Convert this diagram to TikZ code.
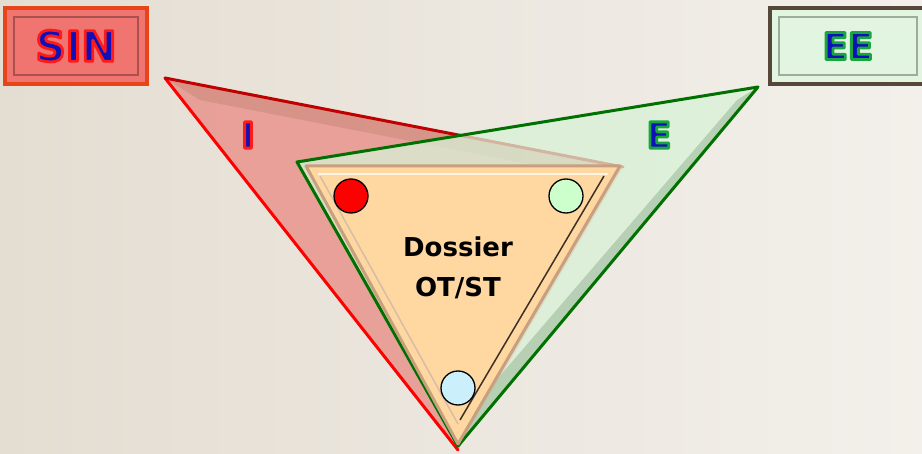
\documentclass[tikz,border=0pt]{standalone}
\usepackage{fontspec}
\setmainfont{DejaVu Sans}
\usetikzlibrary{calc}

\definecolor{bgleft}{HTML}{E4DDD2}
\definecolor{bgright}{HTML}{F3F0EB}
\definecolor{ifill}{HTML}{E89088}
\definecolor{iband}{HTML}{C88878}
\definecolor{iedge}{HTML}{FF0000}
\definecolor{itop}{HTML}{C00000}
\definecolor{efill}{HTML}{D8F2D6}
\definecolor{eband}{HTML}{A8C4A6}
\definecolor{eedge}{HTML}{007000}
\definecolor{dfill}{HTML}{FFD7A0}
\definecolor{dedge}{HTML}{C8A080}
\definecolor{sinfill}{HTML}{F07470}
\definecolor{sinedge}{HTML}{E8441A}
\definecolor{eefill}{HTML}{E2F5E0}
\definecolor{eeedge}{HTML}{554838}
\definecolor{txtblue}{HTML}{1010B8}

% text filled blue and stroked with a glow colour (r g b)
\newcommand{\glowtext}[2]{\special{pdf:literal direct #1 RG 2.8 w 1 j 2 Tr}#2\special{pdf:literal direct 0 Tr}}

\tikzset{
  labelbox/.style={draw, line width=4pt, minimum width=142pt,
    minimum height=76pt, inner sep=0pt, font=\bfseries\fontsize{42}{42}\selectfont,
    text=txtblue},
  dot/.style={circle, draw=black, line width=1.3pt, minimum size=34pt,
    inner sep=0pt},
  side/.style={text=txtblue, font=\bfseries\fontsize{36}{36}\selectfont, inner sep=0pt}
}

\begin{document}
\begin{tikzpicture}[x=1pt,y=-1pt]
  \fill[left color=bgleft,right color=bgright] (0,0) rectangle (922,454);
  \useasboundingbox (0,0) rectangle (922,454);
  \clip (0,0) rectangle (922,454);
  % corners of the three triangles
  \coordinate (i-top) at (165,78);
  \coordinate (i-right) at (623,167);
  \coordinate (i-bot) at (458,450);
  \coordinate (e-left) at (297,162);
  \coordinate (e-top) at (758,87);
  \coordinate (e-bot) at (458,446);
  \coordinate (d-left) at (306,166);
  \coordinate (d-right) at (620,166);
  \coordinate (d-bot) at (458,444);
  % I triangle
  \fill[ifill, opacity=.8] (i-top) -- (i-right) -- (i-bot) -- cycle;
  \fill[iband, opacity=.5] (i-top) -- (i-right) -- (600,178) -- (200,100) -- cycle;
  \draw[iedge, line width=3pt, line cap=round] (i-bot) -- (i-top);
  \draw[itop, line width=3pt, line cap=round] (i-top) -- (i-right);
  % E triangle
  \fill[efill, opacity=.75] (e-left) -- (e-top) -- (e-bot) -- cycle;
  \fill[eband, opacity=.7] (e-top) -- (e-bot) -- (462,420) -- (737,100) -- cycle;
  \draw[eedge, line width=3pt, line join=round] (e-left) -- (e-top) -- (e-bot) -- cycle;
  % dossier triangle
  \fill[dfill] (d-left) -- (d-right) -- (d-bot) -- cycle;
  \draw[dedge, line width=3pt, line join=round] (d-left) -- (d-right) -- (d-bot) -- cycle;
  \draw[white!70!dfill, line width=2pt] (318,174) -- (608,174);
  \draw[dedge!70!white, line width=1.5pt] (320,176) -- (458,424);
  \draw[black!70!dedge, line width=1.5pt] (604,176) -- (460,420);
  % corner dots
  \node[dot, fill=red] (dot-i) at (351,196) {};
  \node[dot, fill=green!20] (dot-e) at (566,196) {};
  \node[dot, fill=cyan!20] (dot-d) at (458,388) {};
  \node[font=\bfseries\fontsize{26}{40}\selectfont, align=center] (dossier)
    at (458,268) {Dossier\\OT/ST};
  % side letters
  \node[side] (lbl-i) at (248,135) {\glowtext{1 0.1 0.1}{I}};
  \node[side] (lbl-e) at (659,135) {\glowtext{0.1 0.65 0.25}{E}};
  % top boxes
  \node[labelbox, draw=sinedge, fill=sinfill] (sin) at (76,46) {\glowtext{1 0.1 0.1}{SIN}};
  \draw[sinfill!70!black, line width=1.5pt]
    ([shift={(11,11)}]sin.north west) rectangle ([shift={(-11,-11)}]sin.south east);
  \node[labelbox, draw=eeedge, fill=eefill, minimum width=156pt,
    font=\bfseries\fontsize{37}{37}\selectfont] (ee) at (848,46) {\glowtext{0.1 0.65 0.25}{EE}};
  \draw[eefill!70!black, line width=1.5pt]
    ([shift={(11,11)}]ee.north west) rectangle ([shift={(-11,-11)}]ee.south east);
\end{tikzpicture}
\end{document}
